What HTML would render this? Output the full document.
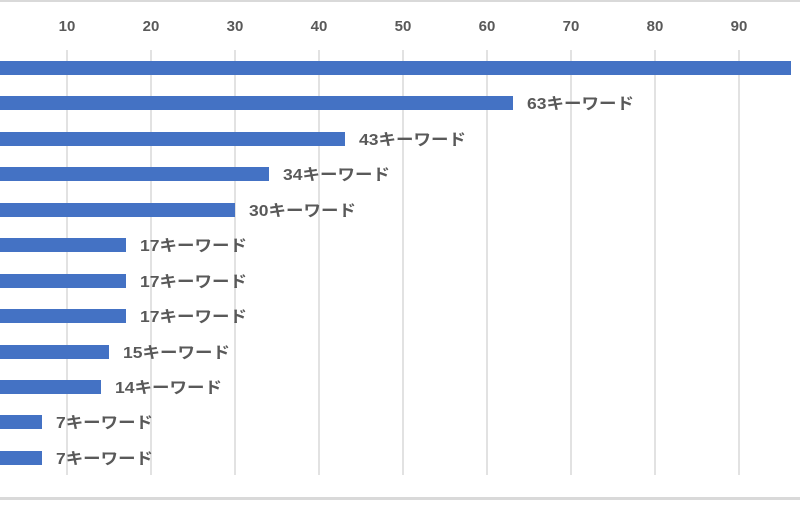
<!DOCTYPE html>
<html><head><meta charset="utf-8"><style>
body{margin:0;background:#fff}
svg text{font-family:"Liberation Sans","Noto Sans CJK JP",sans-serif;font-weight:bold;fill:#595959}
</style></head><body>
<svg width="800" height="500" xmlns="http://www.w3.org/2000/svg">
<rect x="0" y="0" width="800" height="2" fill="#d9d9d9"/>
<rect x="0" y="497" width="800" height="3" fill="#d9d9d9"/>
<g stroke="#d9d9d9" stroke-width="1.5">
<line x1="67" y1="50" x2="67" y2="475"/><line x1="151" y1="50" x2="151" y2="475"/><line x1="235" y1="50" x2="235" y2="475"/><line x1="319" y1="50" x2="319" y2="475"/><line x1="403" y1="50" x2="403" y2="475"/><line x1="487" y1="50" x2="487" y2="475"/><line x1="571" y1="50" x2="571" y2="475"/><line x1="655" y1="50" x2="655" y2="475"/><line x1="739" y1="50" x2="739" y2="475"/>
</g>
<g font-size="15" text-anchor="middle">
<text x="67" y="31">10</text><text x="151" y="31">20</text><text x="235" y="31">30</text><text x="319" y="31">40</text><text x="403" y="31">50</text><text x="487" y="31">60</text><text x="571" y="31">70</text><text x="655" y="31">80</text><text x="739" y="31">90</text>
</g>
<g fill="#4472c4">
<rect x="0" y="61" width="791" height="14"/>
<rect x="0" y="96" width="513" height="14"/>
<rect x="0" y="132" width="345" height="14"/>
<rect x="0" y="167" width="269" height="14"/>
<rect x="0" y="203" width="235" height="14"/>
<rect x="0" y="238" width="126" height="14"/>
<rect x="0" y="274" width="126" height="14"/>
<rect x="0" y="309" width="126" height="14"/>
<rect x="0" y="345" width="109" height="14"/>
<rect x="0" y="380" width="101" height="14"/>
<rect x="0" y="415" width="42" height="14"/>
<rect x="0" y="451" width="42" height="14"/>
</g>
<g font-size="16">
<text x="527" y="109" textLength="107" lengthAdjust="spacingAndGlyphs">63キーワード</text>
<text x="359" y="145" textLength="107" lengthAdjust="spacingAndGlyphs">43キーワード</text>
<text x="283" y="180" textLength="107" lengthAdjust="spacingAndGlyphs">34キーワード</text>
<text x="249" y="216" textLength="107" lengthAdjust="spacingAndGlyphs">30キーワード</text>
<text x="140" y="251" textLength="107" lengthAdjust="spacingAndGlyphs">17キーワード</text>
<text x="140" y="287" textLength="107" lengthAdjust="spacingAndGlyphs">17キーワード</text>
<text x="140" y="322" textLength="107" lengthAdjust="spacingAndGlyphs">17キーワード</text>
<text x="123" y="358" textLength="107" lengthAdjust="spacingAndGlyphs">15キーワード</text>
<text x="115" y="393" textLength="107" lengthAdjust="spacingAndGlyphs">14キーワード</text>
<text x="56" y="428" textLength="97" lengthAdjust="spacingAndGlyphs">7キーワード</text>
<text x="56" y="464" textLength="97" lengthAdjust="spacingAndGlyphs">7キーワード</text>
</g>
</svg>
</body></html>
